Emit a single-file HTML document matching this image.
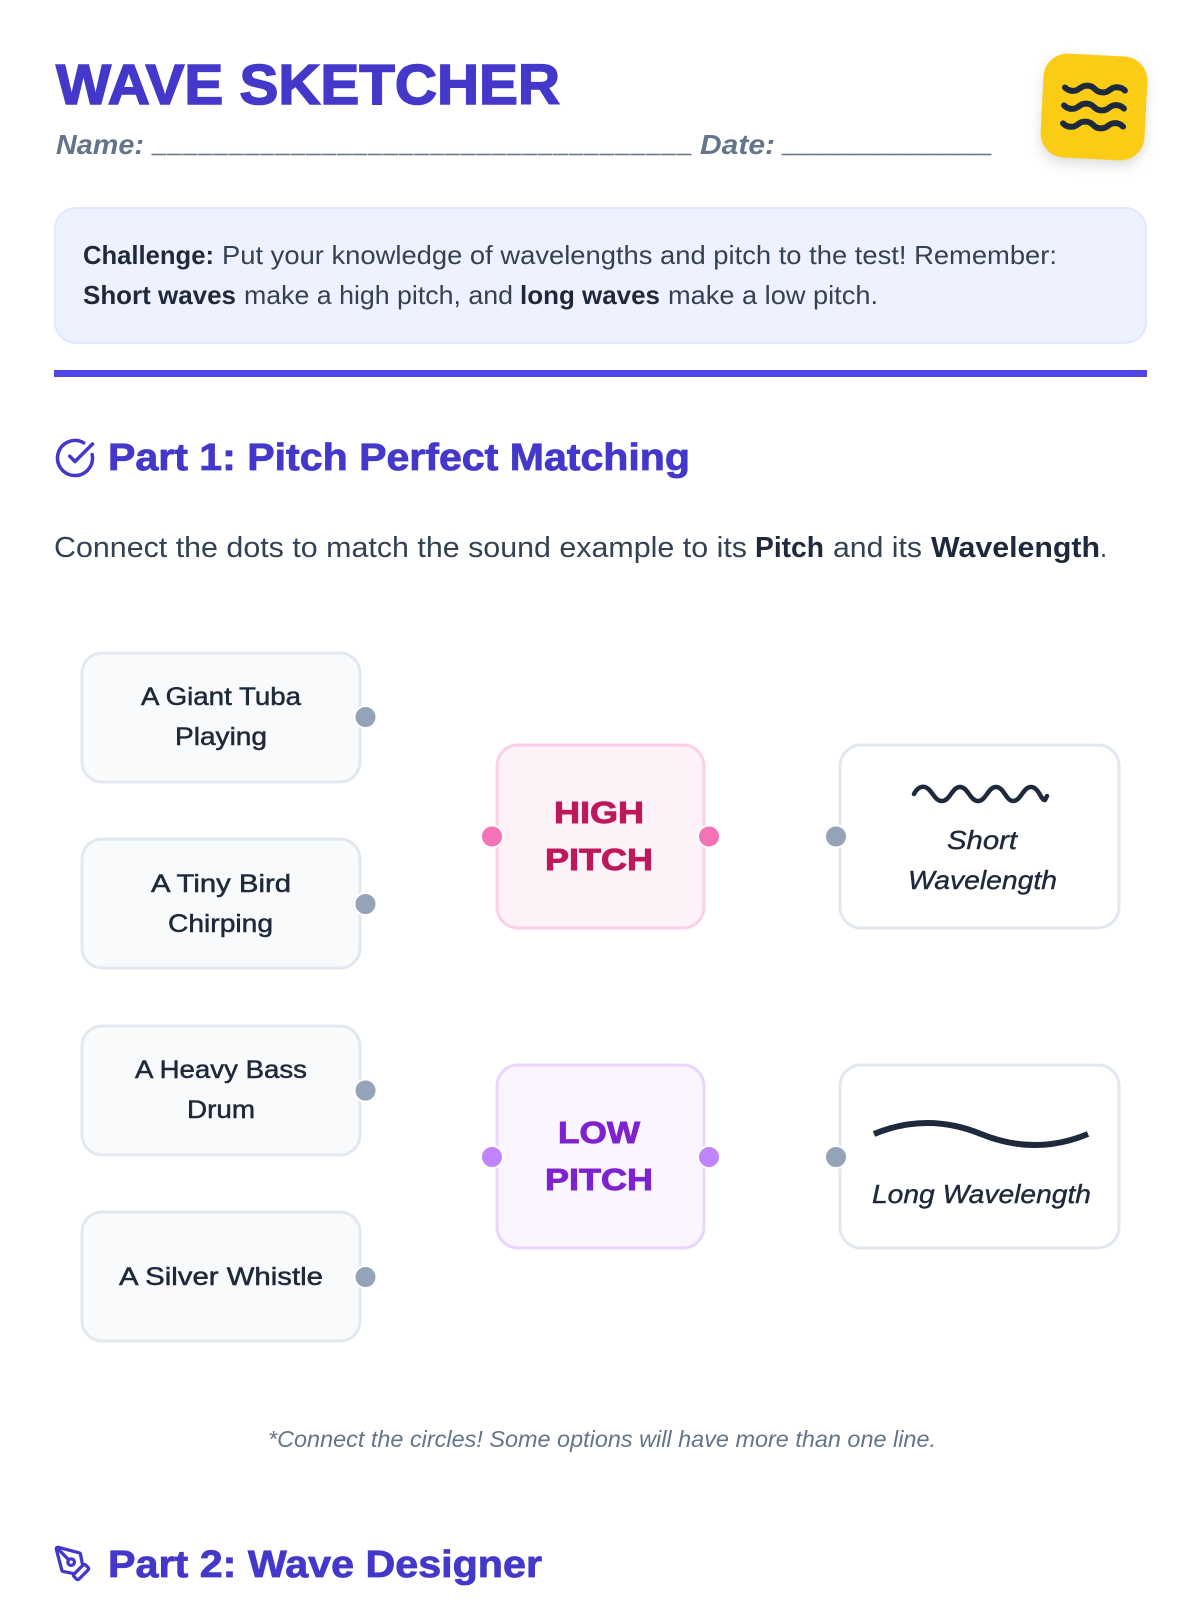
<!DOCTYPE html>
<html lang="en"><head><meta charset="utf-8"><title>Wave Sketcher</title>
<style>
html,body{margin:0;padding:0;background:#fff;width:1200px;height:1600px;overflow:hidden}
svg{display:block}
text{font-family:"Liberation Sans",sans-serif}
.t{font-weight:700;font-size:57px;fill:#4338ca;stroke:#4338ca;stroke-width:1.6}
.n{font-weight:700;font-style:italic;font-size:28px;fill:#64748b}
.u{font-weight:700;font-size:25px;fill:#64748b;stroke:#64748b;stroke-width:.6}
.cb{font-weight:700;font-size:26px;fill:#1e293b}
.cr{font-size:26px;fill:#334155}
.h{font-weight:700;font-size:38px;fill:#4338ca;stroke:#4338ca;stroke-width:.8}
.ir{font-size:29px;fill:#334155}
.ib{font-weight:700;font-size:29px;fill:#1e293b}
.c{font-size:25px;fill:#1e293b;stroke:#1e293b;stroke-width:.5}
.w{font-style:italic;font-size:26px;fill:#1e293b;stroke:#1e293b;stroke-width:.4}
.p{font-weight:700;font-size:31px;stroke-width:.9}
.f{font-style:italic;font-size:23px;fill:#64748b}
.card{fill:#f8fafc;stroke:#e2e8f0;stroke-width:3}
.rc{fill:#fff;stroke:#e2e8f0;stroke-width:3}
.dot{stroke:#fff;stroke-width:2}
.ico{fill:none;stroke:#4338ca;stroke-width:2;stroke-linecap:round;stroke-linejoin:round}
</style></head><body>
<svg xmlns="http://www.w3.org/2000/svg" width="1200" height="1600" viewBox="0 0 1200 1600">
<text class="t" x="56" y="104" textLength="504" lengthAdjust="spacingAndGlyphs">WAVE SKETCHER</text>
<text class="n" x="56" y="154" textLength="88" lengthAdjust="spacingAndGlyphs">Name:</text>
<text class="u" x="152" y="152" textLength="539" lengthAdjust="spacing">___________________________________</text>
<text class="n" x="700" y="154" textLength="75" lengthAdjust="spacingAndGlyphs">Date:</text>
<text class="u" x="782" y="152" textLength="209" lengthAdjust="spacing">______________</text>

<g transform="rotate(3 1094 107)">
<rect x="1042" y="55" width="104" height="104" rx="24" fill="#facc15" style="filter:drop-shadow(0 6px 6px rgba(0,0,0,.13))"/>
<g transform="translate(1058 71) scale(3)" fill="none" stroke="#1e293b" stroke-width="2" stroke-linecap="round" stroke-linejoin="round">
<path d="M2 6c.6.5 1.2 1 2.500 1C7 7 7 5 9.500 5c2.600 0 2.400 2 5 2 2.500 0 2.500-2 5-2 1.300 0 1.900.5 2.500 1"/>
<path d="M2 12c.6.5 1.200 1 2.500 1 2.500 0 2.500-2 5-2 2.600 0 2.400 2 5 2 2.500 0 2.500-2 5-2 1.300 0 1.900.5 2.500 1"/>
<path d="M2 18c.6.5 1.200 1 2.500 1 2.500 0 2.500-2 5-2 2.600 0 2.400 2 5 2 2.500 0 2.500-2 5-2 1.300 0 1.900.5 2.500 1"/>
</g></g>

<rect x="55" y="208" width="1091" height="135" rx="21" fill="#eef2ff" stroke="#e0e7ff" stroke-width="2"/>
<text class="cb" x="83" y="264" textLength="131" lengthAdjust="spacingAndGlyphs">Challenge:</text>
<text class="cr" x="222" y="264" textLength="835" lengthAdjust="spacingAndGlyphs">Put your knowledge of wavelengths and pitch to the test! Remember:</text>
<text class="cb" x="83" y="304" textLength="153" lengthAdjust="spacingAndGlyphs">Short waves</text>
<text class="cr" x="244" y="304" textLength="269" lengthAdjust="spacingAndGlyphs">make a high pitch, and</text>
<text class="cb" x="520" y="304" textLength="140" lengthAdjust="spacingAndGlyphs">long waves</text>
<text class="cr" x="668" y="304" textLength="210" lengthAdjust="spacingAndGlyphs">make a low pitch.</text>

<rect x="54" y="370" width="1093" height="7" fill="#4f46e5"/>

<g class="ico" transform="translate(54 437) scale(1.75)">
<path d="M21.801 10A10 10 0 1 1 17 3.335"/><path d="m9 11 3 3L22 4"/>
</g>
<text class="h" x="108" y="470" textLength="582" lengthAdjust="spacingAndGlyphs">Part 1: Pitch Perfect Matching</text>

<text class="ir" x="54" y="557" textLength="693" lengthAdjust="spacingAndGlyphs">Connect the dots to match the sound example to its</text>
<text class="ib" x="755" y="557" textLength="69" lengthAdjust="spacingAndGlyphs">Pitch</text>
<text class="ir" x="833" y="557" textLength="89" lengthAdjust="spacingAndGlyphs">and its</text>
<text class="ib" x="931" y="557" textLength="169" lengthAdjust="spacingAndGlyphs">Wavelength</text>
<text class="ir" x="1100" y="557" textLength="7" lengthAdjust="spacingAndGlyphs">.</text>

<rect class="card" x="82" y="653" width="278" height="129" rx="20"/>
<rect class="card" x="82" y="839" width="278" height="129" rx="20"/>
<rect class="card" x="82" y="1026" width="278" height="129" rx="20"/>
<rect class="card" x="82" y="1212" width="278" height="129" rx="20"/>

<text class="c" x="141" y="705" textLength="160" lengthAdjust="spacingAndGlyphs">A Giant Tuba</text>
<text class="c" x="175" y="745" textLength="92" lengthAdjust="spacingAndGlyphs">Playing</text>
<text class="c" x="151" y="892" textLength="140" lengthAdjust="spacingAndGlyphs">A Tiny Bird</text>
<text class="c" x="168" y="932" textLength="105" lengthAdjust="spacingAndGlyphs">Chirping</text>
<text class="c" x="135" y="1078" textLength="172" lengthAdjust="spacingAndGlyphs">A Heavy Bass</text>
<text class="c" x="187" y="1118" textLength="68" lengthAdjust="spacingAndGlyphs">Drum</text>
<text class="c" x="119" y="1285" textLength="204" lengthAdjust="spacingAndGlyphs">A Silver Whistle</text>

<circle class="dot" cx="365.500" cy="717" r="11" fill="#94a3b8"/>
<circle class="dot" cx="365.500" cy="904" r="11" fill="#94a3b8"/>
<circle class="dot" cx="365.500" cy="1090.500" r="11" fill="#94a3b8"/>
<circle class="dot" cx="365.500" cy="1277" r="11" fill="#94a3b8"/>

<rect x="497" y="745" width="207" height="183" rx="21" fill="#fdf2f8" stroke="#fbcfe8" stroke-width="3"/>
<rect x="497" y="1065" width="207" height="183" rx="21" fill="#faf5ff" stroke="#e9d5ff" stroke-width="3"/>
<text class="p" fill="#be185d" stroke="#be185d" x="554" y="823" textLength="90" lengthAdjust="spacingAndGlyphs">HIGH</text>
<text class="p" fill="#be185d" stroke="#be185d" x="545" y="870" textLength="108" lengthAdjust="spacingAndGlyphs">PITCH</text>
<text class="p" fill="#7e22ce" stroke="#7e22ce" x="558" y="1143" textLength="82" lengthAdjust="spacingAndGlyphs">LOW</text>
<text class="p" fill="#7e22ce" stroke="#7e22ce" x="545" y="1190" textLength="108" lengthAdjust="spacingAndGlyphs">PITCH</text>
<circle class="dot" cx="492" cy="836.500" r="11" fill="#f472b6"/>
<circle class="dot" cx="709" cy="836.500" r="11" fill="#f472b6"/>
<circle class="dot" cx="492" cy="1157" r="11" fill="#c084fc"/>
<circle class="dot" cx="709" cy="1157" r="11" fill="#c084fc"/>

<rect class="rc" x="840" y="745" width="279" height="183" rx="21"/>
<rect class="rc" x="840" y="1065" width="279" height="183" rx="21"/>
<circle class="dot" cx="836" cy="836.500" r="11" fill="#94a3b8"/>
<circle class="dot" cx="836" cy="1157" r="11" fill="#94a3b8"/>

<path d="M914 794 C917 788 921 786 925 787 C932 789 934 801 942 801 C950 801 952 787 960 787 C968 787 970 801 978 801 C986 801 988 787 996 787 C1004 787 1006 801 1013 801 C1021 801 1023 787 1031 787 C1039 787 1041 801 1045 800 L1047 796" fill="none" stroke="#1e293b" stroke-width="4.500" stroke-linecap="round"/>
<text class="w" x="947" y="849" textLength="70" lengthAdjust="spacingAndGlyphs">Short</text>
<text class="w" x="908" y="889" textLength="149" lengthAdjust="spacingAndGlyphs">Wavelength</text>

<path d="M874 1134 Q927 1112 981 1134 T1088 1134" fill="none" stroke="#1e293b" stroke-width="6"/>
<text class="w" x="872" y="1203" textLength="219" lengthAdjust="spacingAndGlyphs">Long Wavelength</text>

<text class="f" x="268" y="1447" textLength="668" lengthAdjust="spacingAndGlyphs">*Connect the circles! Some options will have more than one line.</text>

<g class="ico" transform="translate(53 1544) scale(1.650)">
<path d="M15.707 21.293a1 1 0 0 1-1.414 0l-1.586-1.586a1 1 0 0 1 0-1.414l5.586-5.586a1 1 0 0 1 1.414 0l1.586 1.586a1 1 0 0 1 0 1.414z"/>
<path d="m18 13-1.375-6.874a1 1 0 0 0-.746-.776L3.235 2.028a1 1 0 0 0-1.207 1.207L5.350 15.879a1 1 0 0 0 .776.746L13 18"/>
<path d="m2.300 2.300 7.286 7.286"/><circle cx="11" cy="11" r="2"/>
</g>
<text class="h" x="108" y="1577" textLength="434" lengthAdjust="spacingAndGlyphs">Part 2: Wave Designer</text>
</svg>
</body></html>
